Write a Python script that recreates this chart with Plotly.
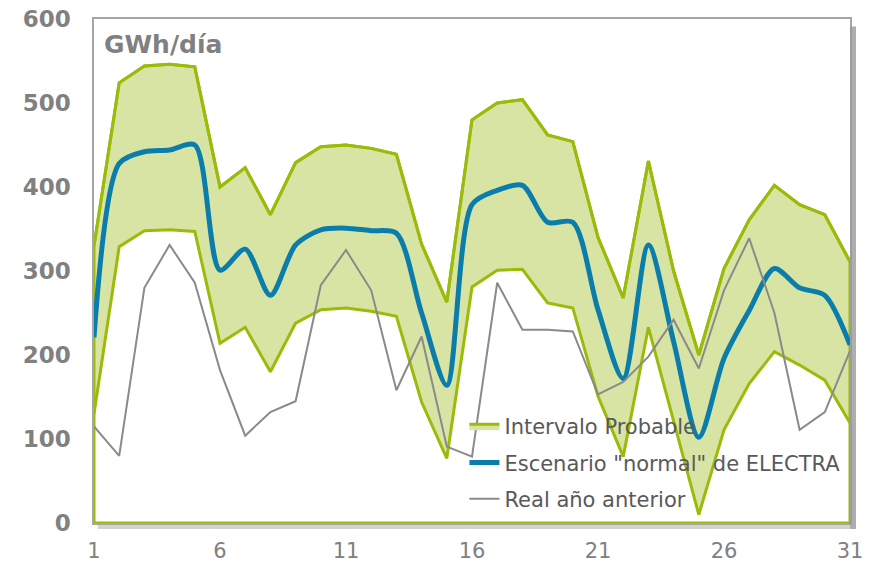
import plotly.graph_objects as go

days = list(range(1, 32))

upper = [330, 524, 544, 546, 543, 400, 423, 367, 429, 448, 450, 446, 439, 332, 263,
         480, 500, 504, 462, 454, 340, 268, 431, 300, 200, 303, 361, 402, 379, 367, 311]
lower = [130, 329, 348, 349, 347, 214, 233, 180, 238, 254, 256, 252, 246, 144, 77,
         281, 301, 302, 262, 256, 151, 79, 233, 120, 10, 111, 166, 204, 188, 170, 119]
escenario = [221, 428, 442, 444, 450, 301, 326, 271, 331, 349, 351, 348, 345, 250, 164,
             379, 396, 402, 358, 358, 254, 172, 331, 216, 102, 196, 253, 303, 280, 271, 212]
real = [115, 80, 280, 331, 286, 182, 104, 132, 145, 283, 325, 277, 158, 222, 91,
        79, 286, 230, 230, 228, 153, 168, 198, 242, 184, 277, 339, 250, 111, 132, 205]

x_ticks = [1, 6, 11, 16, 21, 26, 31]
y_ticks = [0, 100, 200, 300, 400, 500, 600]

GREEN = "#9BBB0A"
FILL = "#D8E4A4"
BLUE = "#0A7DAB"
GRAY = "#8A8A8A"
TXT = "#808080"

fig = go.Figure()

# lower bound (base for the band fill)
fig.add_trace(go.Scatter(
    x=days, y=lower, mode="lines", line=dict(color=GREEN, width=0),
    showlegend=False, hoverinfo="skip", legendgroup="a"))

# upper bound filled down to the lower bound
fig.add_trace(go.Scatter(
    x=days, y=upper, mode="lines", fill="tonexty", fillcolor=FILL,
    line=dict(color=GREEN, width=3), name="Intervalo Probable",
    hoverinfo="skip", legendgroup="a"))

# area outlines: edges, baseline and lower line
fig.add_trace(go.Scatter(
    x=[days[0]] + days + [days[-1], days[0], None] + days,
    y=[0] + upper + [0, 0, None] + lower,
    mode="lines", line=dict(color=GREEN, width=3),
    showlegend=False, hoverinfo="skip", legendgroup="a"))

fig.add_trace(go.Scatter(
    x=days, y=escenario, mode="lines",
    line=dict(color=BLUE, width=5, shape="spline", smoothing=0.8),
    name="Escenario \"normal\" de ELECTRA", legendgroup="b"))

fig.add_trace(go.Scatter(
    x=days, y=real, mode="lines",
    line=dict(color=GRAY, width=2),
    name="Real año anterior", legendgroup="c"))

fig.update_layout(
    width=871, height=562,
    margin=dict(l=94, r=21, t=19, b=39, autoexpand=False),
    paper_bgcolor="white", plot_bgcolor="white",
    font=dict(family="DejaVu Sans", color=TXT),
    showlegend=True,
    legend=dict(x=0.49, y=0.232, xanchor="left", yanchor="top",
                bgcolor="rgba(0,0,0,0)", font=dict(size=21, color="#595959"),
                itemwidth=30, traceorder="grouped", tracegroupgap=6),
    xaxis=dict(range=[1, 31], tickvals=x_ticks, showgrid=False, zeroline=False,
               showline=True, linecolor="#A6A6A6", linewidth=1.5, mirror=True,
               ticks="", tickfont=dict(size=21, color=TXT), ticklabelstandoff=8,
               automargin=False, ticklabeloverflow="allow"),
    yaxis=dict(range=[0, 600], tickvals=y_ticks, showgrid=False, zeroline=False,
               showline=True, linecolor="#A6A6A6", linewidth=1.5, mirror=True,
               ticks="", tickfont=dict(size=23, color=TXT, family="DejaVu Sans", weight="bold"),
               ticklabelstandoff=17, automargin=False, ticklabeloverflow="allow"),
    annotations=[dict(text="<b>GWh/día</b>", xref="paper", yref="paper", x=0.011, y=0.982,
                      xanchor="left", yanchor="top", showarrow=False,
                      font=dict(size=25, color=TXT))],
    shapes=[
        dict(type="rect", xref="paper", yref="paper", x0=1.0, x1=1.0 + 6/756,
             y0=-6/504, y1=0.985, fillcolor="#9A9A9A", opacity=0.8, line=dict(width=0), layer="above"),
        dict(type="rect", xref="paper", yref="paper", x0=0.005, x1=1.0,
             y0=-6/504, y1=-2/504, fillcolor="#C8C8C8", opacity=0.8, line=dict(width=0), layer="above"),
    ],
)

fig.write_html("out.html", config={"displayModeBar": False},
               post_script="document.body.style.margin='0px';")
